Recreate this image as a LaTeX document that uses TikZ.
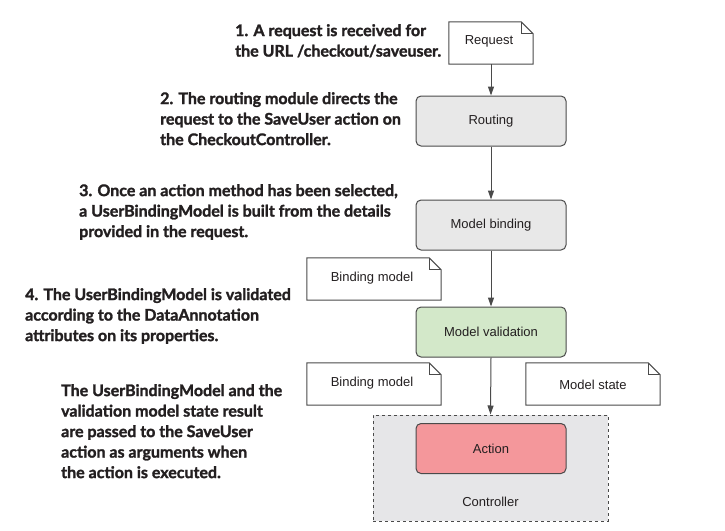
\documentclass[tikz,border=0pt]{standalone}
\usepackage{fontspec}
\setmainfont{Liberation Sans}
\newfontfamily\notefont[BoldFeatures={FakeBold=1.6}]{Lato}
\usetikzlibrary{arrows.meta,positioning}
\definecolor{boxgray}{HTML}{E8E8E8}
\definecolor{boxgreen}{HTML}{D3E8C9}
\definecolor{boxpink}{HTML}{F4979B}
\definecolor{ctlgray}{HTML}{E6E6E8}
\definecolor{edgegray}{HTML}{4A4A4A}
\definecolor{txt}{HTML}{231F20}
\tikzset{
  stepbox/.style={draw=edgegray, line width=1pt, rounded corners=5pt, minimum width=150pt, minimum height=50pt, inner sep=0pt, font=\fontsize{13}{15}\selectfont, text=txt},
  notebox/.style={minimum width=134pt, minimum height=42pt, inner sep=0pt, font=\fontsize{13}{15}\selectfont, text=txt},
  noteline/.style={draw=edgegray, line width=1pt, fill=white},
  flow/.style={draw=edgegray, line width=1pt, -{Triangle[length=9pt,width=6pt]}},
  expl/.style={anchor=north west, align=left, inner sep=0pt, text=txt, font=\notefont\bfseries\fontsize{16}{20.5}\selectfont}
}
\newcommand\foldnote[1]{%
  \draw[noteline] (#1.south west) -- (#1.north west) -- ([xshift=-12pt]#1.north east) -- ([yshift=-12pt]#1.north east) -- (#1.south east) -- cycle;
  \draw[noteline, fill=none] ([xshift=-12pt]#1.north east) |- ([yshift=-12pt]#1.north east);}
\begin{document}
\begin{tikzpicture}[x=1pt,y=-1pt]
\useasboundingbox[fill=white] (0,0) rectangle (725,530);
% controller
\node[draw=edgegray, dashed, line width=1pt, fill=ctlgray, minimum width=235pt, minimum height=106pt, inner sep=0pt] (ctl) at (490.5,468) {};
\node[font=\fontsize{13}{15}\selectfont, text=txt] (ctllabel) at (490.5,502) {Controller};
% steps
\node[stepbox, fill=boxgray] (routing) at (491,121) {Routing};
\node[stepbox, fill=boxgray] (binding) at (491,225) {Model binding};
\node[stepbox, fill=boxgreen] (valid) at (491,332) {Model validation};
\node[stepbox, fill=boxpink] (action) at (491,448.5) {Action};
% notes
\node[notebox, minimum width=84pt] (req) at (491,43) {};
\foldnote{req}
\node[font=\fontsize{13}{15}\selectfont, text=txt] (reqt) at (489,41) {Request};
\node[notebox] (bm1) at (374,279) {};
\foldnote{bm1}
\node[font=\fontsize{13}{15}\selectfont, text=txt] (bm1t) at (372,278) {Binding model};
\node[notebox] (bm2) at (374,384) {};
\foldnote{bm2}
\node[font=\fontsize{13}{15}\selectfont, text=txt] (bm2t) at (372,383) {Binding model};
\node[notebox] (ms) at (593,384) {};
\foldnote{ms}
\node[font=\fontsize{13}{15}\selectfont, text=txt] (mst) at (593,385) {Model state};
% arrows
\draw[flow] (req.south) -- (routing.north);
\draw[flow] (routing.south) -- (binding.north);
\draw[flow] (binding.south) -- (valid.north);
\draw[flow] (valid.south) -- (ctl.north);
% explanations
\node[expl] (e1) at (235,24) {1. A request is received for\\the URL /checkout/saveuser.};
\node[expl] (e2) at (160,92) {2. The routing module directs the\\request to the SaveUser action on\\the CheckoutController.};
\node[expl] (e3) at (79,184) {3. Once an action method has been selected,\\a UserBindingModel is built from the details\\provided in the request.};
\node[expl] (e4) at (25,288) {4. The UserBindingModel is validated\\according to the DataAnnotation\\attributes on its properties.};
\node[expl] (e5) at (61,384) {The UserBindingModel and the\\validation model state result\\are passed to the SaveUser\\action as arguments when\\the action is executed.};
\end{tikzpicture}
\end{document}
